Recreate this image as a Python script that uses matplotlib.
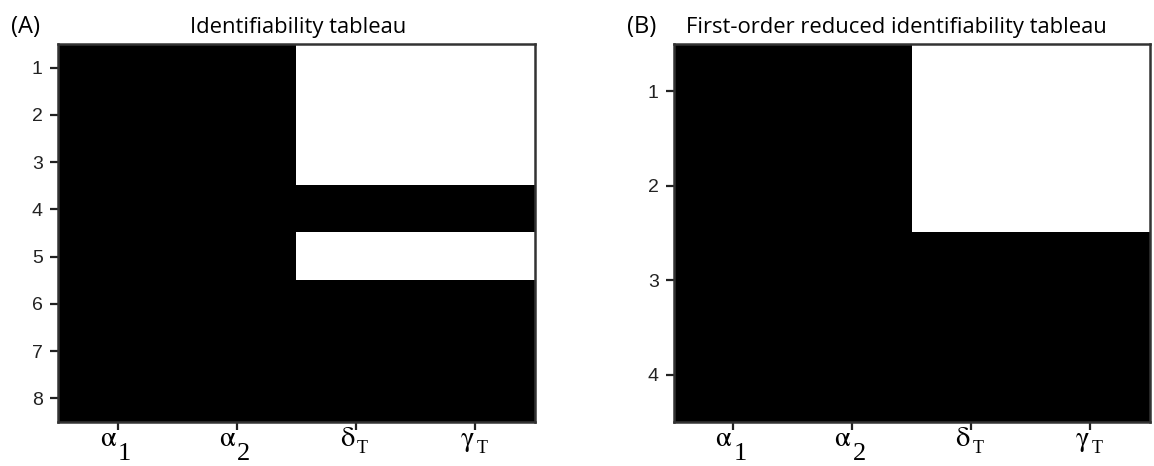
import numpy as np
import matplotlib
matplotlib.use('Agg')
import matplotlib.pyplot as plt
import matplotlib.transforms as mtransforms

plt.rcParams['mathtext.fontset'] = 'stix'

# parameter symbols (letter, subscript) and the two tableaux
# (1 = parameter appears in that row)
param_symbols = [r'$\mathrm{\alpha}$', r'$\mathrm{\alpha}$',
                 r'$\mathrm{\delta}$', r'$\mathrm{\gamma}$']
param_subs = ['1', '2', 'T', 'T']
full_rows = [1, 2, 3, 4, 5, 6, 7, 8]
full_tableau = [
    [1, 1, 0, 0],
    [1, 1, 0, 0],
    [1, 1, 0, 0],
    [1, 1, 1, 1],
    [1, 1, 0, 0],
    [1, 1, 1, 1],
    [1, 1, 1, 1],
    [1, 1, 1, 1],
]
reduced_rows = [1, 2, 3, 4]
reduced_tableau = [
    [1, 1, 0, 0],
    [1, 1, 0, 0],
    [1, 1, 1, 1],
    [1, 1, 1, 1],
]

fig = plt.figure(figsize=(11.54, 4.66), dpi=100)
axA = fig.add_axes([0.0503, 0.0944, 0.4133, 0.8112])
axB = fig.add_axes([0.5840, 0.0944, 0.4125, 0.8112])


def draw(ax, data, rows):
    ax.imshow(np.array(data), cmap='binary', vmin=0, vmax=1,
              aspect='auto', interpolation='nearest')
    ax.set_xticks(range(len(param_symbols)))
    ax.set_xticklabels([])
    ax.set_yticks(range(len(rows)))
    ax.set_yticklabels(rows, fontsize=14, family='Liberation Sans')
    ax.tick_params(colors='#222222', length=6, width=1.6, pad=5)
    for s in ax.spines.values():
        s.set_color('#333333')
        s.set_linewidth(1.8)

    # greek letter with a large, low subscript under each column
    base = ax.get_xaxis_transform()
    for i, (sym, sub) in enumerate(zip(param_symbols, param_subs)):
        t_main = mtransforms.offset_copy(base, fig=fig, x=-1, y=-24, units='dots')
        ax.text(i, 0, sym, transform=t_main, ha='right', va='baseline',
                fontsize=20.5)
        if sub.isdigit():
            t_sub = mtransforms.offset_copy(base, fig=fig, x=0, y=-38, units='dots')
            ax.text(i, 0, sub, transform=t_sub, ha='left', va='baseline',
                    fontsize=19, family='Liberation Serif')
        else:
            t_sub = mtransforms.offset_copy(base, fig=fig, x=1, y=-31, units='dots')
            ax.text(i, 0, sub, transform=t_sub, ha='left', va='baseline',
                    fontsize=13, family='Liberation Serif')


draw(axA, full_tableau, full_rows)
draw(axB, reduced_tableau, reduced_rows)

fig.text(0.0095, 0.942, '(A)', fontsize=17, family='Open Sans', va='center')
fig.text(0.258, 0.942, 'Identifiability tableau', fontsize=15.8,
         family='Open Sans', ha='center', va='center')
fig.text(0.543, 0.942, '(B)', fontsize=17, family='Open Sans', va='center')
fig.text(0.777, 0.942, 'First-order reduced identifiability tableau',
         fontsize=15.8, family='Open Sans', ha='center', va='center')

fig.savefig('out.png', dpi=100)
